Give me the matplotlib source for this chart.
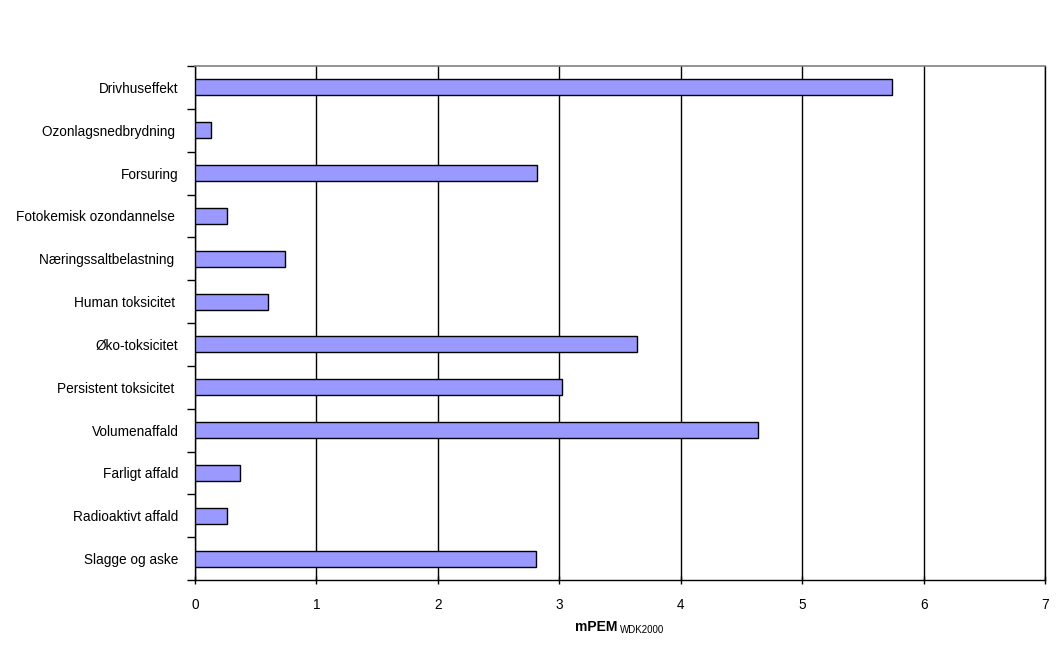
import matplotlib
matplotlib.use("Agg")
import matplotlib.pyplot as plt

plt.rcParams['font.family'] = ['Liberation Sans', 'DejaVu Sans']

categories = ['Drivhuseffekt', 'Ozonlagsnedbrydning ', 'Forsuring',
              'Fotokemisk ozondannelse ', 'Næringssaltbelastning ',
              'Human toksicitet ', 'Øko-toksicitet', 'Persistent toksicitet ',
              'Volumenaffald', 'Farligt affald', 'Radioaktivt affald',
              'Slagge og aske']
values = [5.74, 0.13, 2.82, 0.26, 0.74, 0.60, 3.64, 3.02, 4.64, 0.37, 0.26, 2.81]
xticks = [0, 1, 2, 3, 4, 5, 6, 7]

fig = plt.figure(figsize=(10.61, 6.49), dpi=100)
ax = fig.add_axes([195/1061, 1 - 580/649, 850/1061, 514/649])

n = len(categories)
ypos = list(range(n))
ax.barh(ypos, values, height=0.37, color='#9999ff', edgecolor='black',
        linewidth=1, zorder=3)
ax.set_ylim(n - 0.5, -0.5)
ax.set_xlim(0, 7)

# category labels, ticks between categories
ax.set_yticks(ypos)
ax.set_yticklabels(categories, fontsize=9.8)
ax.tick_params(axis='y', length=0, pad=12)
ax.set_yticks([i - 0.5 for i in range(n + 1)], minor=True)
ax.tick_params(axis='y', which='minor', length=6, width=1, direction='out')

ax.set_xticks(xticks)
ax.set_xticklabels([str(t) for t in xticks], fontsize=9.8)
ax.tick_params(axis='x', length=6, width=1, direction='inout', pad=10)

ax.xaxis.grid(True, color='black', linewidth=1, zorder=0)
ax.set_axisbelow(True)

for s in ['left', 'bottom', 'right']:
    ax.spines[s].set_color('black')
    ax.spines[s].set_linewidth(1)
ax.spines['top'].set_color('#808080')
ax.spines['top'].set_linewidth(1.2)

fig.text(617/1061, 1 - 631/649, 'mPEM', fontsize=10, fontweight='bold',
         ha='right', va='baseline')
fig.text(620/1061, 1 - 633/649, 'WDK2000', fontsize=7,
         ha='left', va='baseline')

fig.savefig('out.png', dpi=100)
